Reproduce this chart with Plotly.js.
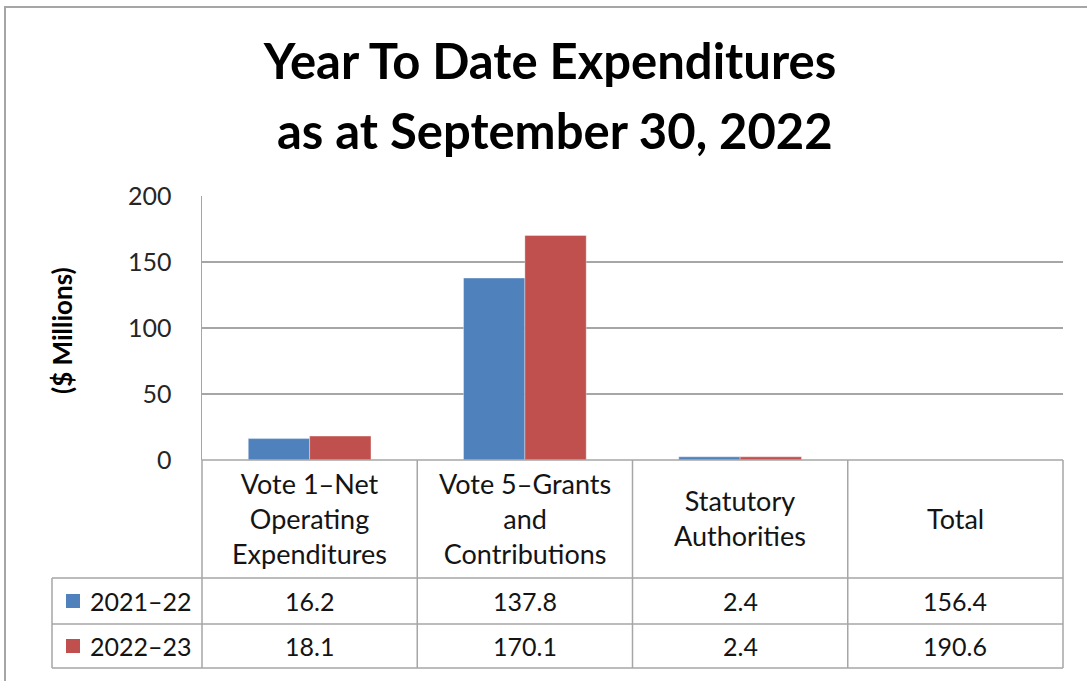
<!DOCTYPE html>
<html><head><meta charset="utf-8">
<script src="https://cdn.plot.ly/plotly-3.0.1.min.js"></script>
<style>html,body{margin:0;padding:0;background:#fff}</style>
</head>
<body>
<div id="chart" style="width:1087px;height:681px"></div>
<script>
// ---- data ----
const categories = ["Vote 1–Net Operating Expenditures", "Vote 5–Grants and Contributions", "Statutory Authorities", "Total"];
const headerLabels = ["Vote 1–Net<br>Operating<br>Expenditures", "Vote 5–Grants<br>and<br>Contributions", "Statutory<br>Authorities", "Total"];
const seriesNames = ["2021–22", "2022–23"];
const values2021 = [16.2, 137.8, 2.4, 156.4];
const values2022 = [18.1, 170.1, 2.4, 190.6];
const chartedCount = 3; // the Total column appears in the data table only
const yTickValues = [0, 50, 100, 150, 200];
const titleLines = ["Year To Date Expenditures", "as at September 30, 2022"];
const yTitle = "($ Millions)";

// ---- styling / geometry ----
const colors = ["#4F81BD", "#C0504D"];
const gray = "#a6a6a6";
const textColor = "#141414";
const FONT = "Lato, 'Open Sans', sans-serif";
const W = 1087, H = 681, L = 202, R = 1063, T = 196, B = 460;
const pw = R - L, ph = B - T;
const px = x => (x - L) / pw;
const py = y => (B - y) / ph;
const rowLines = [578, 624, 668];     // header bottom, row1 bottom, row2 bottom
const rowCenters = [601, 646];
const legendLeft = 52;

const seriesValues = [values2021, values2022];
const traces = seriesValues.map((vals, k) => ({
  type: "bar",
  name: seriesNames[k],
  x: categories.slice(0, chartedCount),
  y: vals.slice(0, chartedCount),
  marker: {color: colors[k], line: {color: "rgba(255,255,255,0.35)", width: 1}},
  hoverinfo: "skip"
}));

const shapes = [];
const line = (x0, y0, x1, y1) => shapes.push({type: "line", xref: "paper", yref: "paper",
  x0: px(x0), y0: py(y0), x1: px(x1), y1: py(y1), line: {color: gray, width: 1.5}, layer: "above"});

// outer chart border
shapes.push({type: "rect", xref: "paper", yref: "paper", x0: px(5), x1: px(1200), y0: py(7), y1: py(800),
  line: {color: gray, width: 2}, layer: "below"});
// table horizontal lines
line(L, B, R, B);
rowLines.forEach(y => line(legendLeft, y, R, y));
// table vertical lines
const n = categories.length;
for (let i = 0; i <= n; i++) {
  const x = L + i * pw / n;
  line(x, B, x, rowLines[rowLines.length - 1]);
}
line(legendLeft, rowLines[0], legendLeft, rowLines[rowLines.length - 1]);
// legend swatches
rowCenters.forEach((yc, k) => shapes.push({type: "rect", xref: "paper", yref: "paper",
  x0: px(66), x1: px(80), y0: py(yc - 7), y1: py(yc + 7), fillcolor: colors[k], line: {width: 0}}));

const annotations = [];
const cellFont = {family: FONT, size: 25, color: textColor};
const headFont = {family: FONT, size: 27, color: textColor};
// header
headerLabels.forEach((lab, i) => annotations.push({xref: "x", yref: "paper", x: i, y: py((B + rowLines[0]) / 2 - 1),
  text: lab, showarrow: false, font: headFont, xanchor: "center", yanchor: "middle", align: "center"}));
// values
seriesValues.forEach((vals, k) => {
  vals.forEach((v, i) => annotations.push({xref: "x", yref: "paper", x: i, y: py(rowCenters[k]),
    text: v.toFixed(1), showarrow: false, font: cellFont, xanchor: "center", yanchor: "middle"}));
  annotations.push({xref: "paper", yref: "paper", x: px(88), y: py(rowCenters[k]), text: seriesNames[k],
    showarrow: false, font: cellFont, xanchor: "left", yanchor: "middle"});
});
// second title line
annotations.push({xref: "paper", yref: "paper", x: px(555), y: py(130), text: titleLines[1], showarrow: false,
  font: {family: FONT, size: 49, color: "#000", weight: "bold"}, xanchor: "center", yanchor: "middle"});
// y axis title
annotations.push({xref: "paper", yref: "paper", x: px(62), y: py(331), text: yTitle, textangle: -90, showarrow: false,
  font: {family: FONT, size: 26, color: "#000", weight: "bold"}, xanchor: "center", yanchor: "middle"});

const layout = {
  width: W, height: H,
  margin: {l: L, r: W - R, t: T, b: H - B, pad: 0},
  paper_bgcolor: "#fff", plot_bgcolor: "#fff",
  showlegend: false,
  hovermode: false,
  barmode: "group", bargap: 0.43, bargroupgap: 0,
  title: {text: titleLines[0], xref: "container", yref: "container", x: 550 / W, y: 1 - 62 / H,
    xanchor: "center", yanchor: "middle", font: {family: FONT, size: 49, color: "#000", weight: "bold"}},
  xaxis: {type: "category", categoryorder: "array", categoryarray: categories, range: [-0.5, n - 0.5],
    showticklabels: false, showgrid: false, zeroline: false, showline: false, ticks: ""},
  yaxis: {range: [0, 200], tickvals: yTickValues, showgrid: true, gridcolor: gray, gridwidth: 1.5,
    zeroline: false, showline: true, linecolor: gray, linewidth: 1.5, ticks: "",
    tickfont: {family: FONT, size: 25, color: "#262626"}, ticklabelstandoff: 24},
  shapes: shapes,
  annotations: annotations
};

Plotly.newPlot("chart", traces, layout, {displayModeBar: false, staticPlot: true});
</script>
</body></html>
